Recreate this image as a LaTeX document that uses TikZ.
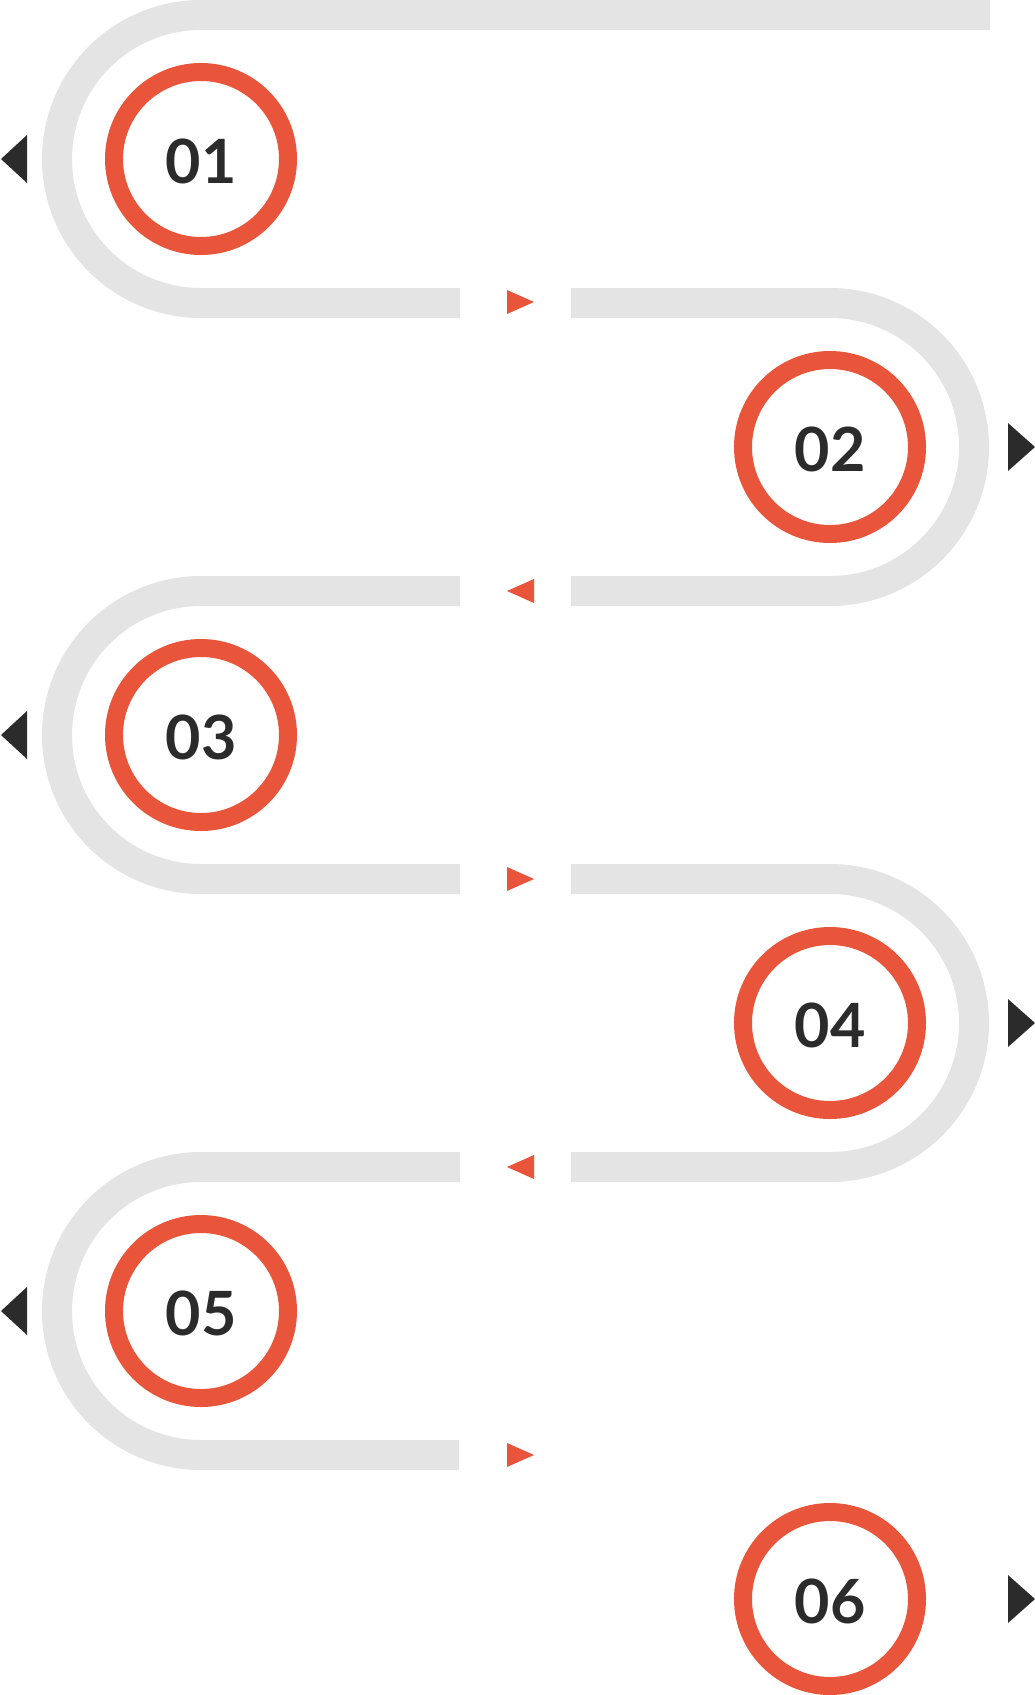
\documentclass[tikz,border=0pt]{standalone}
\usepackage{fontspec}
\setmainfont{Lato}
\usepackage{tikz}
\usetikzlibrary{calc}
\definecolor{band}{HTML}{E5E4E4}
\definecolor{ringred}{HTML}{E9553B}
\definecolor{ink}{HTML}{2B2B2B}
\tikzset{
  track/.style={draw=band, line width=30pt, line cap=butt, line join=round},
  ring/.style={circle, draw=ringred, line width=18pt, fill=white, minimum size=174pt,
    inner sep=0pt, text=ink, text height=49pt, text depth=0pt,
    font=\fontsize{61}{61}\selectfont\bfseries},
  tip/.style={fill=ink},
  gaptip/.style={fill=ringred},
}

\begin{document}
\begin{tikzpicture}[x=1pt, y=-1pt]
  \useasboundingbox (0,0) rectangle (1035,1695);
  \def\r{144}
  % track
  \draw[track] (990,15) -- (201,15) arc (270:90:\r) -- (460,303);
  \draw[track] (571,303) -- (830,303) arc (-90:90:\r) -- (571,591);
  \draw[track] (460,591) -- (201,591) arc (270:90:\r) -- (460,879);
  \draw[track] (571,879) -- (830,879) arc (-90:90:\r) -- (571,1167);
  \draw[track] (460,1167) -- (201,1167) arc (270:90:\r) -- (459,1455);

  % circles
  \node[ring] (c1) at (201,159) {01};
  \node[ring] (c2) at (830,447) {02};
  \node[ring] (c3) at (201,735) {03};
  \node[ring] (c4) at (830,1023) {04};
  \node[ring] (c5) at (201,1311) {05};
  \node[ring] (c6) at (830,1599) {06};

  % gap markers
  \coordinate (g1) at (520,302);
  \coordinate (g2) at (520,591);
  \coordinate (g3) at (520,879);
  \coordinate (g4) at (520,1167);
  \coordinate (g5) at (520,1455);
  \fill[gaptip] ($(g1)+(-13,-12)$) -- ($(g1)+(14,0)$) -- ($(g1)+(-13,12)$) -- cycle;
  \fill[gaptip] ($(g2)+(14,-12)$) -- ($(g2)+(-13,0)$) -- ($(g2)+(14,12)$) -- cycle;
  \fill[gaptip] ($(g3)+(-13,-12)$) -- ($(g3)+(14,0)$) -- ($(g3)+(-13,12)$) -- cycle;
  \fill[gaptip] ($(g4)+(14,-12)$) -- ($(g4)+(-13,0)$) -- ($(g4)+(14,12)$) -- cycle;
  \fill[gaptip] ($(g5)+(-13,-12)$) -- ($(g5)+(14,0)$) -- ($(g5)+(-13,12)$) -- cycle;

  % side pointers
  \fill[tip] ($(c1)+(-174,-24)$) -- ($(c1)+(-200,0)$) -- ($(c1)+(-174,24)$) -- cycle;
  \fill[tip] ($(c3)+(-174,-24)$) -- ($(c3)+(-200,0)$) -- ($(c3)+(-174,24)$) -- cycle;
  \fill[tip] ($(c5)+(-174,-24)$) -- ($(c5)+(-200,0)$) -- ($(c5)+(-174,24)$) -- cycle;
  \fill[tip] ($(c2)+(178,-24)$) -- ($(c2)+(205,0)$) -- ($(c2)+(178,24)$) -- cycle;
  \fill[tip] ($(c4)+(178,-24)$) -- ($(c4)+(205,0)$) -- ($(c4)+(178,24)$) -- cycle;
  \fill[tip] ($(c6)+(178,-24)$) -- ($(c6)+(205,0)$) -- ($(c6)+(178,24)$) -- cycle;
\end{tikzpicture}
\end{document}
